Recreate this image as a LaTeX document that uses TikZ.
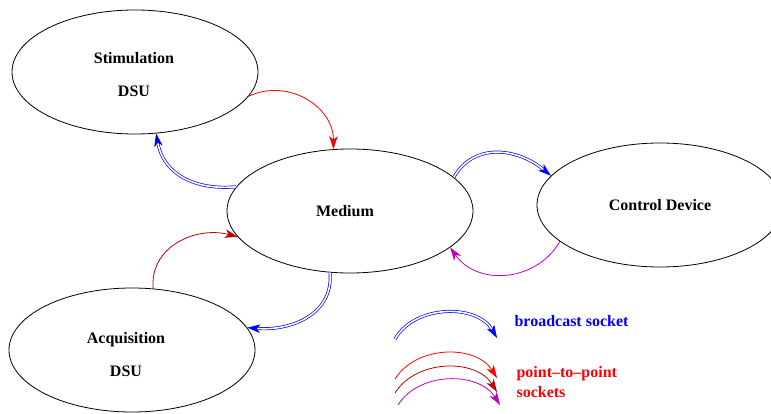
\documentclass[tikz,border=0pt]{standalone}
\usepackage{fontspec}
\setmainfont{Liberation Serif}
\usetikzlibrary{shapes.geometric,arrows.meta}
\definecolor{myred}{RGB}{255,0,0}
\definecolor{mydarkred}{RGB}{185,0,0}
\definecolor{mymag}{RGB}{190,0,190}
\definecolor{myblue}{RGB}{0,0,255}
\begin{document}
\begin{tikzpicture}[x=1pt,y=-1pt,
  unit/.style={ellipse,draw,line width=0.8pt,minimum width=246pt,minimum height=124pt,inner sep=0pt,
    font=\fontsize{16}{33}\selectfont\bfseries,align=center},
  tip/.style={-{Stealth[length=13pt,width=8.5pt,inset=3.5pt]}},
  bsock/.style={tip,draw=myblue,double=white,double distance=1.6pt,line width=0.7pt},
  psock/.style={tip,line width=0.8pt},
  legtext/.style={font=\fontsize{16}{20}\selectfont\bfseries,anchor=west,align=left}]
\useasboundingbox (0,0) rectangle (771,414);
\clip (0,0) rectangle (771,414);
\node[unit] (stim) at (135,72) {};
\node[unit] (med) at (350,211) {};
\node[unit] (ctrl) at (660,205) {};
\node[unit] (acq) at (132,350) {};
\node[font=\fontsize{16}{33}\selectfont\bfseries,align=center] (stimt) at (134,75) {Stimulation\\DSU};
\node[font=\fontsize{16}{33}\selectfont\bfseries] (medt) at (345,211) {Medium};
\node[font=\fontsize{16}{33}\selectfont\bfseries] (ctrlt) at (660,205) {Control Device};
\node[font=\fontsize{16}{33}\selectfont\bfseries,align=center] (acqt) at (126,355) {Acquisition\\DSU};
% connectors
\draw[psock,myred] (stim.-12.6) to[out=25,in=90,looseness=1.1] (med.105.6);
\draw[bsock] (med.168.2) to[out=185,in=-80,looseness=1.1] (stim.-71);
\draw[bsock] (med.18.4) to[out=60,in=140,looseness=1.1] (ctrl.165.8);
\draw[psock,mymag] (ctrl.200.7) to[out=-120,in=-55,looseness=1.1] (med.-20.4);
\draw[psock,mydarkred] (acq.71.9) to[out=95,in=165,looseness=1.1] (med.193.2);
\draw[bsock] (med.252.4) to[out=-85,in=-5,looseness=1.1] (acq.11.2);
% legend
\coordinate (b1) at (395,339); \coordinate (b2) at (497,338);
\coordinate (r1) at (395,379); \coordinate (r2) at (497,378);
\coordinate (d1) at (395,393); \coordinate (d2) at (497,392);
\coordinate (m1) at (398,405); \coordinate (m2) at (500,405);
\draw[bsock] (b1) to[out=60,in=120] (b2);
\draw[psock,myred] (r1) to[out=58,in=122] (r2);
\draw[psock,mydarkred] (d1) to[out=58,in=122] (d2);
\draw[psock,mymag] (m1) to[out=58,in=122] (m2);
\node[legtext,text=myblue] (lb) at (511,321) {broadcast socket};
\node[legtext,text=myred] (lp) at (513,382) {point--to--point\\sockets};
\end{tikzpicture}
\end{document}
